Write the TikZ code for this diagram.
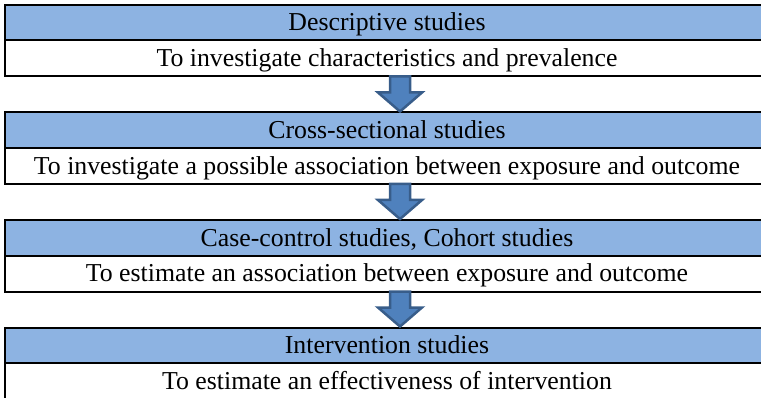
\documentclass[tikz,border=0pt]{standalone}
\usepackage{fontspec}
\setmainfont{Liberation Serif}
\usepackage{tikz}
\usetikzlibrary{calc}
\usetikzlibrary{positioning}

\definecolor{headblue}{RGB}{141,179,226}
\definecolor{arrowfill}{RGB}{79,129,189}
\definecolor{arrowline}{RGB}{56,93,138}

\tikzset{
  headbox/.style={draw=black,line width=2pt,fill=headblue,minimum width=764pt,minimum height=35.5pt,
    inner sep=0pt,outer sep=0pt,text height=17.5pt,text depth=1pt,font=\fontsize{25.8}{30}\selectfont},
  bodybox/.style={headbox,fill=white,minimum height=36pt},
  downarrow/.style={fill=arrowfill,draw=arrowline,line width=2.5pt,line join=miter}
}

% block arrow from the bottom of #1 to the top of #2
\newcommand{\studyarrow}[2]{%
  \draw[downarrow] let \p1=($(#1.south)+(13pt,0)$), \p2=($(#2.north)+(13pt,0)$) in
    (\x1-10pt,\y1) -- (\x1+10pt,\y1) -- (\x1+10pt,\y2+20pt) -- (\x1+22pt,\y2+20pt)
    -- (\x1,\y2+1pt) -- (\x1-22pt,\y2+20pt) -- (\x1-10pt,\y2+20pt) -- cycle;}

\begin{document}
\begin{tikzpicture}[x=1pt,y=1pt]
  \useasboundingbox (0,0) rectangle (761,397);
%1
  \node[headbox,anchor=north west] (desc) at (5,392) {Descriptive studies};
  \node[bodybox,below=0pt of desc] (descaim) {To investigate characteristics and prevalence};
%2
  \node[headbox,below=36pt of descaim] (cross) {Cross-sectional studies};
  \node[bodybox,below=0pt of cross] (crossaim) {To investigate a possible association between exposure and outcome};
%3
  \node[headbox,below=36pt of crossaim] (cohort) {Case-control studies, Cohort studies};
  \node[bodybox,below=0pt of cohort] (cohortaim) {To estimate an association between exposure and outcome};
%4
  \node[headbox,below=36pt of cohortaim] (interv) {Intervention studies};
  \node[bodybox,below=0pt of interv] (intervaim) {To estimate an effectiveness of intervention};
% arrows
  \studyarrow{descaim}{cross}
  \studyarrow{crossaim}{cohort}
  \studyarrow{cohortaim}{interv}
\end{tikzpicture}
\end{document}
